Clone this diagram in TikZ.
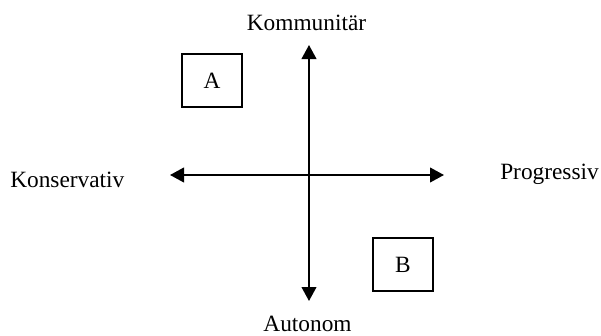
\documentclass[tikz,border=0pt]{standalone}
\usepackage{fontspec}
\setmainfont{Liberation Serif}
\usetikzlibrary{arrows.meta}
\begin{document}
\begin{tikzpicture}[x=0.75pt,y=-0.75pt,
  lbl/.style={inner sep=0pt,font=\fontsize{17.5}{20}\selectfont},
  qbox/.style={draw,line width=0.8pt,minimum width=45pt,minimum height=39.75pt,inner sep=0pt,font=\fontsize{17.5}{20}\selectfont},
  axis/.style={line width=1.5pt,{Triangle[length=10.5pt,width=11pt]}-{Triangle[length=10.5pt,width=11pt]}}]
\useasboundingbox (0,0) rectangle (601,336);
\coordinate (top) at (309,45);
\coordinate (bot) at (309,301);
\coordinate (lft) at (170,175);
\coordinate (rgt) at (444,175);
\draw[axis] (bot) -- (top);
\draw[axis] (lft) -- (rgt);
\node[lbl,anchor=base] (komm) at (306.5,30) {Kommunitär};
\node[lbl,anchor=base west] (kons) at (10,187) {Konservativ};
\node[lbl,anchor=base west] (prog) at (500,179) {Progressiv};
\node[lbl,anchor=base] (auto) at (307.5,331.5) {Autonom};
\node[qbox] (A) at (212,80.5) {A};
\node[qbox] (B) at (403,264.5) {B};
\end{tikzpicture}
\end{document}
